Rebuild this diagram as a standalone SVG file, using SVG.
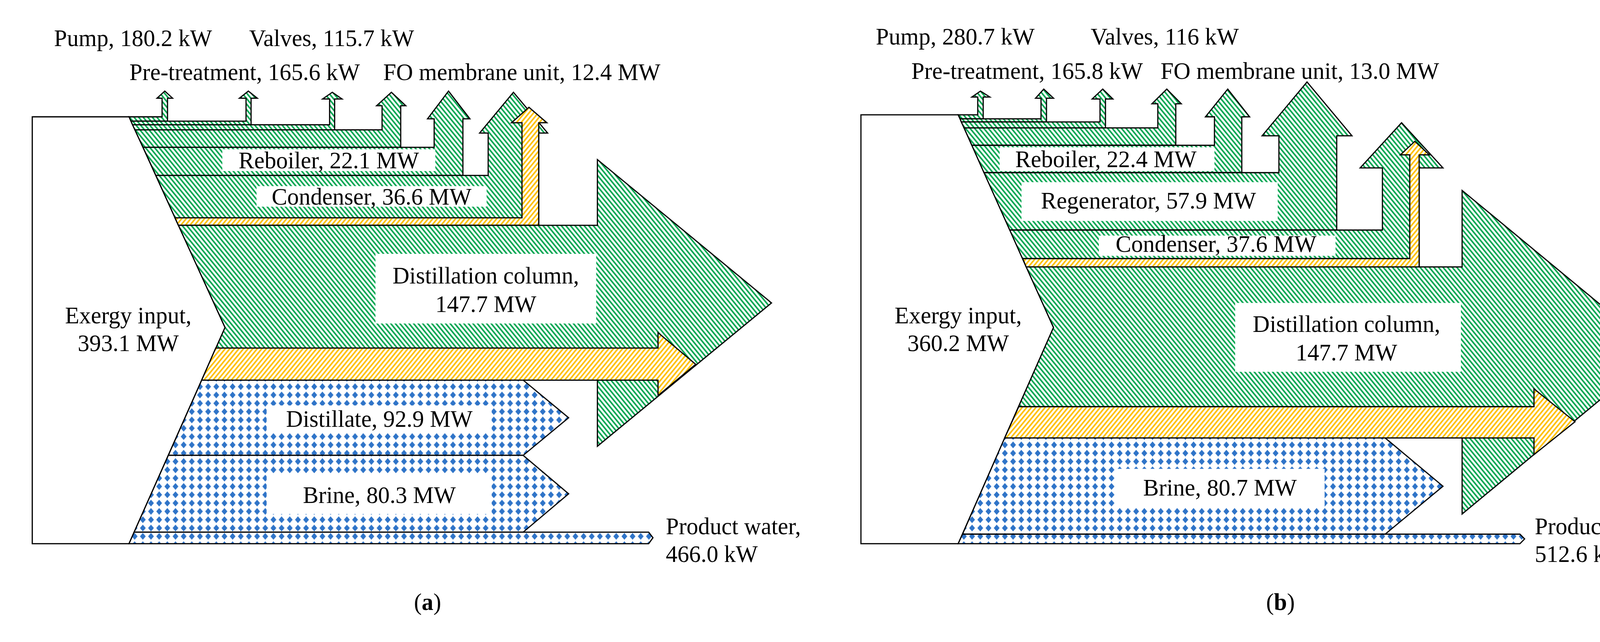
<svg xmlns="http://www.w3.org/2000/svg" width="4353" height="1644" viewBox="0 0 4353 1644">
<defs>
<pattern id="pg" width="9" height="9" patternUnits="userSpaceOnUse" patternTransform="rotate(-40)"><rect width="9" height="9" fill="#fff"/><rect width="4" height="9" fill="#00a651"/></pattern>
<pattern id="py" width="9" height="9" patternUnits="userSpaceOnUse" patternTransform="rotate(40)"><rect width="9" height="9" fill="#fff"/><rect width="4" height="9" fill="#ffbf00"/></pattern>
<pattern id="pb" width="21" height="21" patternUnits="userSpaceOnUse"><rect width="21" height="21" fill="#fff"/><polygon points="10.5,2 18,10.5 10.5,19 3,10.5" fill="#2f74c8"/></pattern>
<style>
.g{fill:url(#pg);stroke:#000;stroke-width:3}
.y{fill:url(#py);stroke:#000;stroke-width:3}
.b{fill:url(#pb);stroke:#000;stroke-width:3}
.w{fill:#fff;stroke:#000;stroke-width:3}
.lb{fill:#fff}
text{font-family:"Liberation Serif","Times New Roman",serif;font-size:60px;fill:#000}
.c{text-anchor:middle}
</style>
</defs>
<g id="panel-a" transform="scale(0.995 1.014)">
<g id="a-input"><polygon class="w" points="83,295 332,295 579,827 332,1373 83,1373"/></g>
<g id="a-connectors">
<polygon id="a-pump" class="g" points="332,295 417,295 417,248 404,248 424,230 444,248 431,248 431,306 337,306"/>
<polygon id="a-pre" class="g" points="337,306 633,306 633,248 616,248 639,230 662,248 646,248 646,315 341,315"/>
<polygon id="a-valves" class="g" points="341,315 848,315 848,250 830,250 855,233 880,250 861,250 861,328 347,328"/>
<polygon id="a-fo" class="g" points="347,328 983,328 983,267 969,267 1007,233 1044,267 1031,267 1031,372 368,372"/>
<polygon id="a-reb" class="g" points="368,372 1117,372 1117,300 1100,300 1154,230 1209,300 1191,300 1191,443 401,443"/>
<polygon id="a-cond" class="g" points="401,443 1256,443 1256,336 1234,336 1321,233 1409,336 1386,336 1386,569 459,569"/>
<polygon id="a-condy" class="y" points="450,550 1343,550 1343,310 1316,310 1361,271 1407,310 1386,310 1386,569 459,569"/>
<polygon id="a-dist" class="g" points="459,569 1537,569 1537,403 1985,765 1537,1127 1537,960 519,960 579,827"/>
<polygon id="a-disty" class="y" points="555,879 1693,879 1693,840 1790,920 1693,999 1693,960 519,960"/>
<polygon id="a-distillate" class="b" points="519,960 1346,960 1463,1055 1346,1150 433,1150"/>
<polygon id="a-brine" class="b" points="433,1150 1346,1150 1463,1247 1346,1344 345,1344"/>
<polygon id="a-prod" class="b" points="345,1344 1669,1344 1680,1358 1669,1373 332,1373"/>
</g>
<g id="a-labels">
<rect class="lb" x="572" y="377" width="548" height="55"/>
<text class="c" x="846" y="425">Reboiler, 22.1 MW</text>
<rect class="lb" x="660" y="470" width="592" height="52"/>
<text class="c" x="956" y="517">Condenser, 36.6 MW</text>
<rect class="lb" x="966" y="641" width="568" height="176"/>
<text class="c" x="1250" y="716">Distillation column,</text>
<text class="c" x="1250" y="788">147.7 MW</text>
<rect class="lb" x="686" y="1024" width="579" height="67"/>
<text class="c" x="976" y="1078">Distillate, 92.9 MW</text>
<rect class="lb" x="686" y="1199" width="579" height="99"/>
<text class="c" x="976" y="1270">Brine, 80.3 MW</text>
<text x="139" y="116">Pump, 180.2 kW</text>
<text x="641" y="116">Valves, 115.7 kW</text>
<text x="333" y="202">Pre-treatment, 165.6 kW</text>
<text x="986" y="202">FO membrane unit, 12.4 MW</text>
<text class="c" x="330" y="817">Exergy input,</text>
<text class="c" x="330" y="887">393.1 MW</text>
<text x="1713" y="1349">Product water,</text>
<text x="1713" y="1419">466.0 kW</text>
<text class="c" x="1100" y="1540">(<tspan font-weight="bold">a</tspan>)</text>
</g>
</g>
<g id="panel-b" transform="scale(1 1.014)">
<g id="b-input"><polygon class="w" points="2204,290 2453,290 2697,827 2453,1373 2204,1373"/></g>
<g id="b-connectors">
<polygon id="b-pump" class="g" points="2453,290 2503,290 2503,245 2488,245 2510,230 2534,245 2517,245 2517,300 2458,300"/>
<polygon id="b-pre" class="g" points="2458,300 2665,300 2665,248 2651,248 2672,225 2697,248 2679,248 2679,308 2461,308"/>
<polygon id="b-valves" class="g" points="2461,308 2816,308 2816,250 2796,250 2823,225 2849,250 2830,250 2830,323 2468,323"/>
<polygon id="b-fo" class="g" points="2468,323 2964,323 2964,262 2949,262 2987,225 3024,262 3010,262 3010,367 2488,367"/>
<polygon id="b-reb" class="g" points="2488,367 3109,367 3109,295 3086,295 3143,225 3199,295 3179,295 3179,436 2519,436"/>
<polygon id="b-regen" class="g" points="2519,436 3274,436 3274,343 3231,343 3346,207 3461,343 3422,343 3422,581 2585,581"/>
<polygon id="b-cond" class="g" points="2585,581 3539,581 3539,424 3482,424 3588,310 3694,424 3633,424 3633,674 2627,674"/>
<polygon id="b-condy" class="y" points="2618,653 3609,653 3609,391 3585,391 3622,357 3659,391 3633,391 3633,674 2627,674"/>
<polygon id="b-dist" class="g" points="2627,674 3743,674 3743,481 4244,889 3743,1298 3743,1106 2572,1106 2697,827"/>
<polygon id="b-disty" class="y" points="2608,1027 3927,1027 3927,982 4032,1065 3927,1148 3927,1106 2572,1106"/>
<polygon id="b-brine" class="b" points="2572,1106 3546,1106 3694,1228 3546,1349 2464,1349"/>
<polygon id="b-prod" class="b" points="2464,1349 3891,1349 3903,1361 3891,1373 2453,1373"/>
</g>
<g id="b-labels">
<rect class="lb" x="2559" y="372" width="550" height="60"/>
<text class="c" x="2831" y="422">Reboiler, 22.4 MW</text>
<rect class="lb" x="2615" y="460" width="656" height="98"/>
<text class="c" x="2940" y="527">Regenerator, 57.9 MW</text>
<rect class="lb" x="2813" y="595" width="606" height="51"/>
<text class="c" x="3113" y="636">Condenser, 37.6 MW</text>
<rect class="lb" x="3162" y="765" width="578" height="174"/>
<text class="c" x="3447" y="838">Distillation column,</text>
<text class="c" x="3447" y="910">147.7 MW</text>
<rect class="lb" x="2855" y="1184" width="536" height="96"/>
<text class="c" x="3123" y="1251">Brine, 80.7 MW</text>
<text x="2242" y="112">Pump, 280.7 kW</text>
<text x="2792" y="112">Valves, 116 kW</text>
<text x="2333" y="199">Pre-treatment, 165.8 kW</text>
<text x="2971" y="199">FO membrane unit, 13.0 MW</text>
<text class="c" x="2453" y="817">Exergy input,</text>
<text class="c" x="2453" y="887">360.2 MW</text>
<text x="3929" y="1349">Product water,</text>
<text x="3929" y="1419">512.6 kW</text>
<text class="c" x="3278" y="1540">(<tspan font-weight="bold">b</tspan>)</text>
</g>
</g>
</svg>
